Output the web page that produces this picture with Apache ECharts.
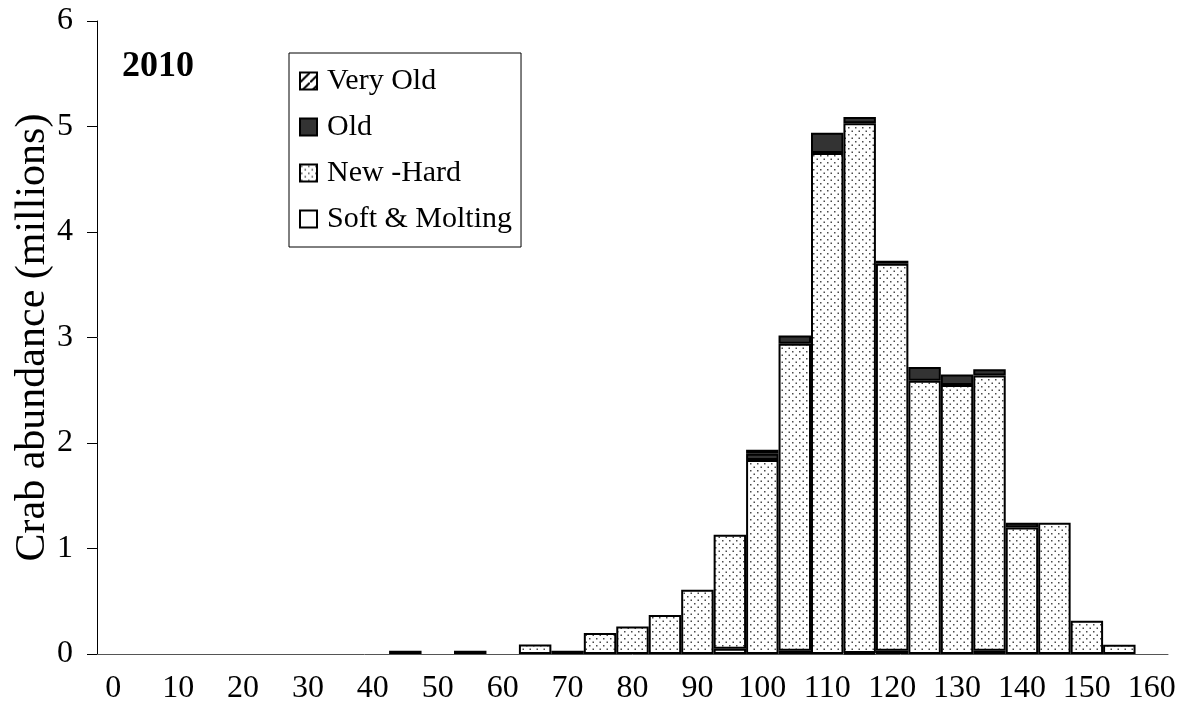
<!DOCTYPE html>
<html>
<head>
<meta charset="utf-8">
<script src="https://cdn.jsdelivr.net/npm/echarts@6/dist/echarts.min.js"></script>
<style>
html,body{margin:0;padding:0;background:#fff;}
#c{width:1183px;height:713px;}
</style>
</head>
<body>
<div id="c"></div>
<script>
// Carapace width bins (mm), 5 mm wide
const categories = ['0','5','10','15','20','25','30','35','40','45','50','55','60','65','70','75','80','85','90','95','100','105','110','115','120','125','130','135','140','145','150','155','160'];
// Abundance (millions) by shell condition
const softMolting = [0,0,0,0,0,0,0,0,0,0,0,0,0,0,0,0,0,0,0,0.05,0,0.03,0,0.01,0.03,0,0,0.03,0,0,0,0,0];
const newHard     = [0,0,0,0,0,0,0,0,0,0.03,0,0.03,0,0.09,0.03,0.2,0.26,0.37,0.61,1.08,1.84,2.91,4.75,5.02,3.67,2.59,2.55,2.61,1.2,1.245,0.315,0.088,0];
const old         = [0,0,0,0,0,0,0,0,0,0,0,0,0,0,0,0,0,0,0,0,0.057,0.08,0.19,0.06,0.027,0.13,0.1,0.06,0.045,0,0,0,0];
const veryOld     = [0,0,0,0,0,0,0,0,0,0,0,0,0,0,0,0,0,0,0,0,0.04,0,0,0,0,0,0,0,0,0,0,0,0];
const yTicks = [0,1,2,3,4,5,6];
const labels = {soft:'Soft & Molting', newHard:'New -Hard', old:'Old', veryOld:'Very Old'};
const yearLabel = '2010';
const yName = 'Crab abundance (millions)';

function dotCanvas(){
  const c=document.createElement('canvas'); c.width=7; c.height=7;
  const g=c.getContext('2d');
  g.fillStyle='#ffffff'; g.fillRect(0,0,7,7);
  g.fillStyle='#4a4a4a';
  g.fillRect(1,1,1.5,1.5);
  g.fillRect(4.5,4.5,1.5,1.5);
  return c;
}
function hatchCanvas(){
  const c=document.createElement('canvas'); c.width=10; c.height=10;
  const g=c.getContext('2d');
  g.fillStyle='#ffffff'; g.fillRect(0,0,10,10);
  g.strokeStyle='#000'; g.lineWidth=2;
  g.beginPath(); g.moveTo(-1,11); g.lineTo(11,-1); g.stroke();
  return c;
}
const nz = a => a.map(v => v === 0 ? null : v);
const font = 'Liberation Serif';
const baseBar = {type:'bar', stack:'total', barCategoryGap:'0%', barGap:'0%'};
const chart = echarts.init(document.getElementById('c'), null, {renderer:'canvas'});
chart.setOption({
  animation:false,
  backgroundColor:'#fff',
  title:{text:yearLabel,left:117,top:44,textStyle:{fontFamily:font,fontSize:36,fontWeight:'bold',color:'#000'}},
  legend:{
    orient:'vertical',left:289,top:53,
    data:[labels.veryOld,labels.old,labels.newHard,labels.soft],
    icon:'rect',itemWidth:17,itemHeight:17,itemGap:16,
    padding:[13,9,13,10],
    borderColor:'#000',borderWidth:1,
    textStyle:{fontFamily:font,fontSize:30,color:'#000',padding:[0,0,0,5]}
  },
  grid:{left:97,right:15,top:21,bottom:59,outerBoundsMode:'none',containLabel:false},
  xAxis:{
    type:'category',data:categories,boundaryGap:true,
    axisLine:{lineStyle:{color:'#555',width:1}},
    axisTick:{interval:0,length:10,lineStyle:{color:'#555'}},
    axisLabel:{interval:1,margin:19,fontFamily:font,fontSize:32,color:'#000'}
  },
  yAxis:{
    type:'value',min:yTicks[0],max:yTicks[yTicks.length-1],interval:1,
    name:yName,nameLocation:'middle',nameGap:43,nameMoveOverlap:false,
    nameTextStyle:{fontFamily:font,fontSize:42,color:'#000'},
    axisLine:{show:true,lineStyle:{color:'#000',width:1}},
    axisTick:{show:true,length:10,lineStyle:{color:'#000'}},
    splitLine:{show:false},
    axisLabel:{margin:24,fontFamily:font,fontSize:32,color:'#000'}
  },
  series:[
    Object.assign({},baseBar,{name:labels.soft,data:nz(softMolting),itemStyle:{color:'#ffffff',borderColor:'#000',borderWidth:2}}),
    Object.assign({},baseBar,{name:labels.newHard,data:nz(newHard),itemStyle:{color:{image:dotCanvas(),repeat:'repeat'},borderColor:'#000',borderWidth:2}}),
    Object.assign({},baseBar,{name:labels.old,data:nz(old),itemStyle:{color:'#333333',borderColor:'#000',borderWidth:2}}),
    Object.assign({},baseBar,{name:labels.veryOld,data:nz(veryOld),itemStyle:{color:{image:hatchCanvas(),repeat:'repeat'},borderColor:'#000',borderWidth:2}})
  ]
});
</script>
</body>
</html>
